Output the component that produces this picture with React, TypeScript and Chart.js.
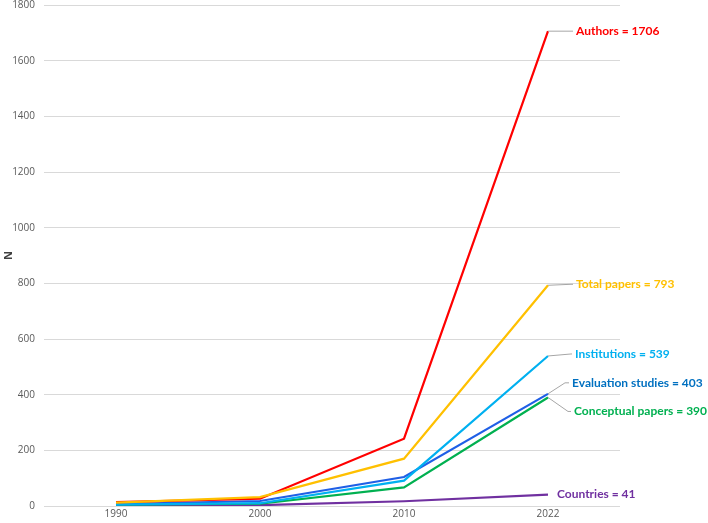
import React, { useEffect, useRef } from "react";
import { Chart, registerables } from "chart.js";

Chart.register(...registerables);

const categories = ["1990", "2000", "2010", "2022"];
const seriesNames = ["Total papers", "Authors", "Institutions", "Evaluation studies", "Conceptual papers", "Countries"];
const totalPapers = [12, 32, 170, 793];
const authors = [14, 26, 242, 1706];
const institutions = [5, 10, 91, 539];
const evaluationStudies = [7, 18, 104, 403];
const conceptualPapers = [5, 8, 67, 390];
const countries = [2, 3, 17, 41];
const yTicks = [0, 200, 400, 600, 800, 1000, 1200, 1400, 1600, 1800];

const lineColors = ["#FFC000", "#FF0000", "#00B0F0", "#1F5FE6", "#00B050", "#7030A0"];
const textColors = ["#FFC000", "#FF0000", "#00B0F0", "#0070C0", "#00B050", "#7030A0"];
// label placement: leader end dx, label dy, text dx, draw leader
const labelPlacement = [
  { dx: 23, dy: -1, tx: 28, leader: true },
  { dx: 23, dy: 0, tx: 28, leader: true },
  { dx: 23, dy: -2, tx: 27, leader: true },
  { dx: 17, dy: -11, tx: 24, leader: true },
  { dx: 20, dy: 14, tx: 26, leader: true },
  { dx: 0, dy: 0, tx: 9, leader: false },
];

const endLabels = {
  id: "endLabels",
  afterDatasetsDraw(chart: any) {
    const ctx = chart.ctx;
    ctx.save();
    chart.data.datasets.forEach((ds: any, i: number) => {
      const meta = chart.getDatasetMeta(i);
      const pt = meta.data[meta.data.length - 1];
      const val = ds.data[ds.data.length - 1];
      const p = labelPlacement[i];
      const x0 = pt.x;
      const y0 = pt.y;
      const ly = y0 + p.dy;
      if (p.leader) {
        ctx.strokeStyle = "#A6A6A6";
        ctx.lineWidth = 1;
        ctx.beginPath();
        ctx.moveTo(x0, y0);
        ctx.lineTo(x0 + p.dx, ly);
        ctx.lineTo(x0 + p.tx - 3, ly);
        ctx.stroke();
      }
      ctx.fillStyle = textColors[i];
      ctx.font = "bold 12px Lato, 'Open Sans', sans-serif";
      ctx.textAlign = "left";
      ctx.textBaseline = "middle";
      ctx.fillText(`${ds.label} = ${val}`, x0 + p.tx, ly);
    });
    ctx.restore();
  },
};

export default function App() {
  const ref = useRef<HTMLCanvasElement | null>(null);
  useEffect(() => {
    document.body.style.margin = "0";
    const values = [totalPapers, authors, institutions, evaluationStudies, conceptualPapers, countries];
    const chart = new Chart(ref.current as HTMLCanvasElement, {
      type: "line",
      data: {
        labels: categories,
        datasets: seriesNames.map((name, i) => ({
          label: name,
          data: values[i],
          borderColor: lineColors[i],
          backgroundColor: lineColors[i],
          borderWidth: 2.2,
          pointRadius: 0,
          tension: 0,
        })),
      },
      options: {
        responsive: false,
        animation: false,
        layout: { padding: { left: 0, right: 88, top: 0, bottom: 0 } },
        plugins: { legend: { display: false }, tooltip: { enabled: false } },
        scales: {
          x: {
            offset: true,
            grid: { display: false, drawTicks: false },
            border: { display: false },
            ticks: { color: "#595959", font: { size: 10, family: "'Open Sans', sans-serif" }, padding: 2 },
            afterFit(axis: any) {
              axis.height = 17;
              axis.paddingLeft = 0;
              axis.paddingRight = 0;
            },
          },
          y: {
            min: 0,
            max: 1800,
            afterBuildTicks(axis: any) {
              axis.ticks = yTicks.map((v) => ({ value: v }));
            },
            grid: { color: "#D9D9D9", lineWidth: 1, drawTicks: false },
            border: { display: false },
            ticks: {
              color: "#595959",
              font: { size: 10, family: "'Open Sans', sans-serif" },
              padding: 9,
              callback: (v: any) => String(v),
            },
            title: {
              display: true,
              text: "N",
              color: "#404040",
              font: { size: 11, weight: "bold", family: "'Open Sans', sans-serif" },
              padding: { top: 2, bottom: 0 },
            },
            afterFit(axis: any) {
              axis.width = 44;
              axis.paddingTop = 5;
              axis.paddingBottom = 0;
            },
          },
        },
      },
      plugins: [endLabels],
    });
    return () => chart.destroy();
  }, []);
  return (
    <div style={{ position: "absolute", left: 0, top: 0, width: 708, height: 523, background: "#fff" }}>
      <canvas ref={ref} width={708} height={523} />
    </div>
  );
}
